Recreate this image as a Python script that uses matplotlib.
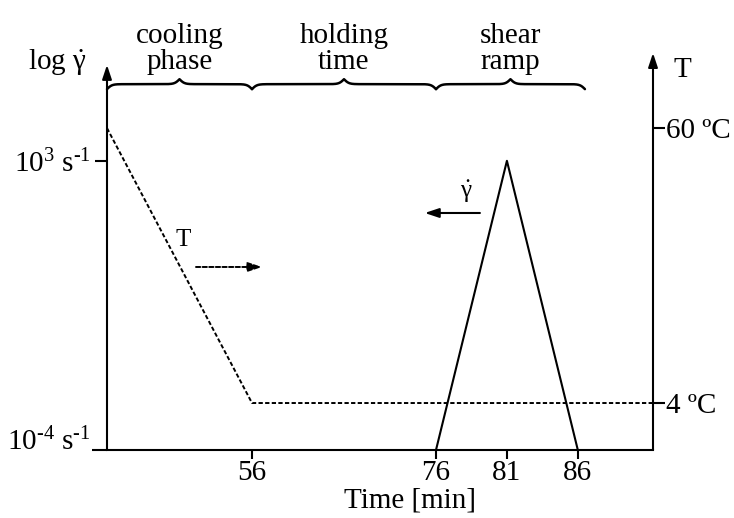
import numpy as np
import matplotlib
matplotlib.use("Agg")
import matplotlib.pyplot as plt
from matplotlib.ticker import FixedLocator, FixedFormatter, NullLocator

plt.rcParams['font.family'] = ['Liberation Serif', 'DejaVu Serif']
plt.rcParams['mathtext.fontset'] = 'custom'
plt.rcParams['mathtext.rm'] = 'Liberation Serif'
plt.rcParams['mathtext.it'] = 'Liberation Serif:italic'
plt.rcParams['mathtext.bf'] = 'Liberation Serif:bold'

# =========================
# data (schematic protocol)
# =========================
temp_time = [0, 56, 91.3]          # min
temp_value = [60, 4, 4]            # deg C
ramp_time = [76, 81, 86]           # min
ramp_rate = [1e-4, 1e3, 1e-4]      # 1/s

time_ticks = [56, 76, 81, 86]
rate_major = [1e3]
rate_major_labels = [r'10$^{3}$ s$^{\text{-}1}$']
rate_minor = [1e-4]
rate_minor_labels = [r'10$^{\text{-}4}$ s$^{\text{-}1}$']
temp_ticks = [4, 60]
temp_labels = ['4 ºC', '60 ºC']

phase_names = ['cooling\nphase', 'holding\ntime', 'shear\nramp']
phase_start = [0, 56, 76]
phase_end = [56, 76, 86.5]

# schematic (non linear) time axis: time -> drawing position
scale_t = [0, 56, 76, 91.3]
scale_p = [0, 145, 329, 546]

def _extend(ts, ps):
    k0 = (ps[1] - ps[0]) / (ts[1] - ts[0])
    k1 = (ps[-1] - ps[-2]) / (ts[-1] - ts[-2])
    big = 1e4
    ts2 = [ts[0] - big] + list(ts) + [ts[-1] + big]
    ps2 = [ps[0] - big * k0] + list(ps) + [ps[-1] + big * k1]
    return np.array(ts2, float), np.array(ps2, float)

ext_t, ext_p = _extend(scale_t, scale_p)

def fwd(t):
    return np.interp(np.asarray(t, float), ext_t, ext_p)

def inv(p):
    return np.interp(np.asarray(p, float), ext_p, ext_t)

def to_frac(t):
    return (fwd(t) - fwd(scale_t[0])) / (fwd(scale_t[-1]) - fwd(scale_t[0]))

def draw_brace(ax, f0, f1, y0, h, s=0.0045):
    w = f1 - f0
    x = np.linspace(0, w / 2, 300)
    yh = 1 / (1 + np.exp(-x / s)) + 1 / (1 + np.exp(-(x - w / 2) / s))
    xf = np.concatenate([x, w - x[::-1]])
    yf = np.concatenate([yh, yh[::-1]])
    ax.plot(f0 + xf, y0 + (yf - 0.5) * h, transform=ax.transAxes,
            color='k', lw=1.8, clip_on=False, solid_capstyle='round')

# =========================
# figure
# =========================
fig = plt.figure(figsize=(7.34, 5.18), dpi=100)
ax = fig.add_axes([107 / 734, 68 / 518, 546 / 734, 397 / 518])

ax.set_xscale('function', functions=(fwd, inv))
ax.set_xlim(scale_t[0], scale_t[-1])
ax.set_yscale('log')
ax.set_ylim(1e-4, 10 ** 5.61)

ax.plot(ramp_time, ramp_rate, color='k', lw=1.5)

ax.xaxis.set_major_locator(FixedLocator(time_ticks))
ax.xaxis.set_major_formatter(FixedFormatter([str(t) for t in time_ticks]))
ax.xaxis.set_minor_locator(NullLocator())
ax.yaxis.set_major_locator(FixedLocator(rate_major))
ax.yaxis.set_major_formatter(FixedFormatter(rate_major_labels))
ax.yaxis.set_minor_locator(FixedLocator(rate_minor))
ax.yaxis.set_minor_formatter(FixedFormatter(rate_minor_labels))

ax.tick_params(axis='x', length=6.5, width=1.5, pad=1, labelsize=21)
ax.tick_params(axis='y', which='major', length=8.6, width=1.5, pad=3, labelsize=21)
ax.tick_params(axis='y', which='minor', length=11, width=1.5, pad=1, labelsize=21)
for t in ax.yaxis.get_minor_ticks():
    t.label1.set_va('baseline')

for side in ['top', 'right', 'left']:
    ax.spines[side].set_visible(False)
ax.spines['bottom'].set_linewidth(1.5)

ax.set_xlabel('Time [min]', fontsize=21)
ax.xaxis.set_label_coords(0.555, -0.095)

# temperature axis
ax2 = ax.twinx()
ax2.set_ylim(-5.57, 75.3)
ax2.plot(temp_time, temp_value, color='k', lw=1.4, ls=(0, (2.2, 1.2)))
ax2.yaxis.set_major_locator(FixedLocator(temp_ticks))
ax2.yaxis.set_major_formatter(FixedFormatter(temp_labels))
ax2.tick_params(axis='y', length=8.6, width=1.5, pad=1, labelsize=21)
for side in ax2.spines:
    ax2.spines[side].set_visible(False)

# axis arrows
head = '-|>,head_length=0.6,head_width=0.2'
ax.annotate('', xy=(0, 0.970), xytext=(0, 0), xycoords='axes fraction',
            arrowprops=dict(arrowstyle=head, mutation_scale=14, lw=1.5,
                            color='k', shrinkA=0, shrinkB=0))
ax.annotate('', xy=(1, 1.0), xytext=(1, 0), xycoords='axes fraction',
            arrowprops=dict(arrowstyle=head, mutation_scale=14, lw=1.5,
                            color='k', shrinkA=0, shrinkB=0))
ax.text(-0.037, 0.957, r'log $\dot{\mathrm{\gamma}}$', transform=ax.transAxes,
        ha='right', va='baseline', fontsize=21)
ax.text(1.038, 0.94, 'T', transform=ax.transAxes, ha='left', va='baseline',
        fontsize=21)

# phase braces
for name, t0, t1 in zip(phase_names, phase_start, phase_end):
    f0, f1 = to_frac(t0), to_frac(t1)
    draw_brace(ax, f0, f1, 0.909, 0.025)
    ax.text((f0 + f1) / 2, 0.945, name, transform=ax.transAxes,
            ha='center', va='bottom', fontsize=21, linespacing=1.0)

# curve labels with arrows
ax.text(0.139, 0.529, 'T', transform=ax.transAxes, ha='center',
        va='center', fontsize=18)
ax.annotate('', xy=(0.284, 0.461), xytext=(0.163, 0.461),
            xycoords='axes fraction',
            arrowprops=dict(arrowstyle=head, mutation_scale=14, lw=1.4,
                            ls=(0, (2.2, 1.2)), color='k',
                            shrinkA=0, shrinkB=0))
ax.text(0.658, 0.652, r'$\dot{\mathrm{\gamma}}$', transform=ax.transAxes,
        ha='center', va='center', fontsize=18)
ax.annotate('', xy=(0.582, 0.597), xytext=(0.683, 0.597),
            xycoords='axes fraction',
            arrowprops=dict(arrowstyle=head, mutation_scale=14, lw=1.5,
                            color='k', shrinkA=0, shrinkB=0))

fig.savefig('out.png', dpi=100)
